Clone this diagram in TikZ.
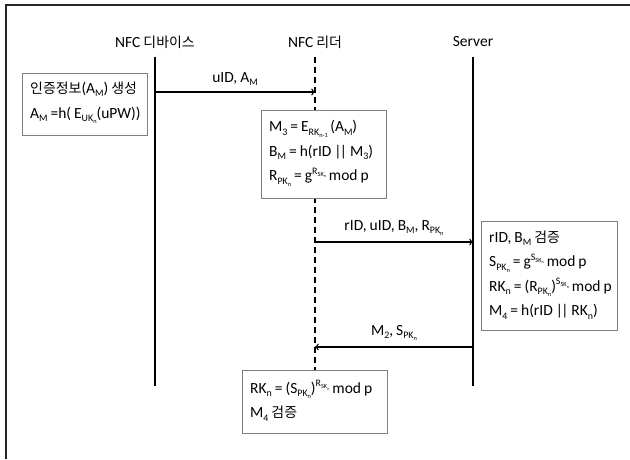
\documentclass[tikz,border=0pt]{standalone}
\usepackage{fontspec}
\usetikzlibrary{positioning}
\setmainfont{Carlito}[WordSpace=0.85]
\newfontfamily\kr{Noto Sans CJK KR}[Scale=0.9]
\newcommand\sbt[1]{\raisebox{-0.22em}{\scalebox{0.64}{#1}}}
\newcommand\spt[1]{\raisebox{0.42em}{\scalebox{0.64}{#1}}}
\newcommand\dbar{|\kern-1.6pt|}
\tikzset{
  lifeline/.style={line width=1.7pt,black},
  msg/.style={line width=1.4pt,black,->},
  calcbox/.style={draw=gray,fill=white,line width=0.6pt,anchor=north west,inner sep=0pt},
  boxtext/.style={align=left,inner xsep=8pt,inner ysep=0pt,font=\fontsize{15.5}{24.5}\selectfont},
  actor/.style={font=\fontsize{15.5}{17}\selectfont},
}
\begin{document}
\begin{tikzpicture}[x=1pt,y=-1pt]
\useasboundingbox (0,0) rectangle (630,459);
% frame (top and left edges only)
\draw[line width=1.2pt,black!85] (630,5) -- (6,5) -- (6,459);

% actors
\node[actor] (dev) at (155,42) {NFC {\kr 디바이스}};
\node[actor] (rdr) at (315,42) {NFC {\kr 리더}};
\node[actor] (srv) at (473,42) {Server};

% lifelines
\coordinate (devend) at (155,386);
\coordinate (srvend) at (473,386);
\coordinate (rdrend) at (315,371);
\draw[lifeline] (dev.south |- 0,57) -- (devend);
\draw[lifeline] (srv.south |- 0,57) -- (srvend);
\draw[lifeline,dash pattern=on 6pt off 4pt] (rdr.south |- 0,57) -- (rdrend);

% boxes
\node[calcbox,minimum width=125pt,minimum height=62pt] (box1) at (22,73) {};
\node[boxtext,right=0pt of box1.west,yshift=1.5pt] (box1txt)
  {{\kr 인증정보}(A\sbt{M}) {\kr 생성}\\A\sbt{M} =h( E\sbt{UK\sbt{n}}(uPW))};
\node[calcbox,minimum width=125pt,minimum height=88pt] (box2) at (261,110) {};
\node[boxtext,right=0pt of box2.west,yshift=1pt] (box2txt)
  {M\sbt{3} = E\sbt{RK\sbt{n-1}}\,(A\sbt{M})\\B\sbt{M} = h(rID \dbar{} M\sbt{3})\\R\sbt{PK\sbt{n}} = g\spt{R\sbt{SK\sbt{n}}} mod p};
\node[calcbox,minimum width=136pt,minimum height=109pt] (box3) at (481,221) {};
\node[boxtext,right=0pt of box3.west,yshift=1pt] (box3txt)
  {rID, B\sbt{M} {\kr 검증}\\S\sbt{PK\sbt{n}} = g\spt{S\sbt{SK\sbt{n}}} mod p\\RK\sbt{n} = (R\sbt{PK\sbt{n}})\spt{S\sbt{SK\sbt{n}}} mod p\\M\sbt{4} = h(rID \dbar{} RK\sbt{n})};
\node[calcbox,minimum width=145pt,minimum height=63pt] (box4) at (242,370) {};
\node[boxtext,right=0pt of box4.west,yshift=1pt] (box4txt)
  {RK\sbt{n} = (S\sbt{PK\sbt{n}})\spt{R\sbt{SK\sbt{n}}} mod p\\M\sbt{4} {\kr 검증}};

% messages
\coordinate (m1a) at (155,92);  \coordinate (m1b) at (315,92);
\coordinate (m2a) at (315,242); \coordinate (m2b) at (473,242);
\coordinate (m3a) at (473,347); \coordinate (m3b) at (315,347);
\draw[msg] (m1a) -- node[midway,above=2pt,actor] {uID, A\sbt{M}} (m1b);
\draw[msg] (m2a) -- node[midway,above=2pt,actor] {rID, uID, B\sbt{M}, R\sbt{PK\sbt{n}}} (m2b);
\draw[msg] (m3a) -- node[midway,above=2pt,actor] {M\sbt{2}, S\sbt{PK\sbt{n}}} (m3b);
\end{tikzpicture}
\end{document}
